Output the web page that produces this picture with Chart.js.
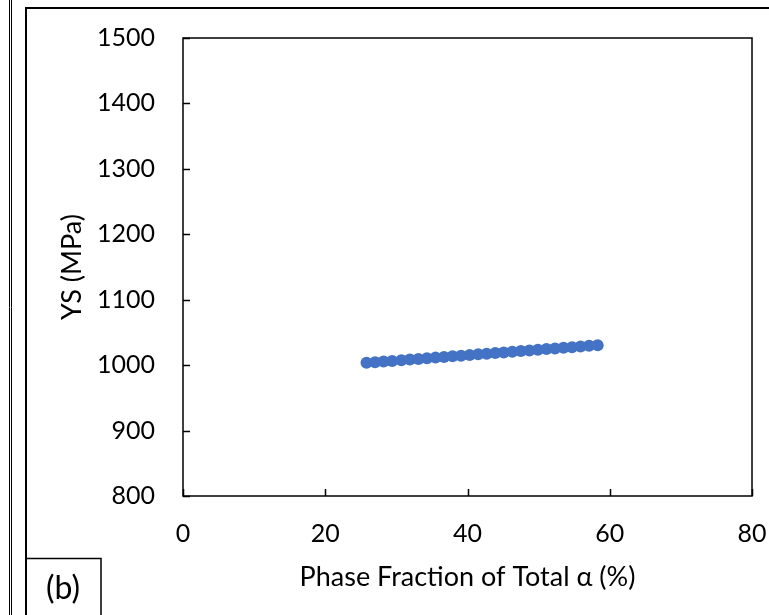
<!DOCTYPE html>
<html>
<head>
<meta charset="utf-8">
<script src="https://cdn.jsdelivr.net/npm/chart.js@4/dist/chart.umd.min.js"></script>
<style>
  html, body { margin: 0; padding: 0; background: #fff; }
  #wrap { width: 769px; height: 615px; position: relative; }
</style>
</head>
<body>
<div id="wrap"><canvas id="ysChart" width="769" height="615"></canvas></div>
<script>
// phase fraction of total alpha (%) and yield strength (MPa)
const alphaFraction = [25.8, 27.0, 28.2, 29.4, 30.7, 31.9, 33.1, 34.3, 35.5, 36.7, 37.9, 39.1, 40.3, 41.5,
                       42.7, 43.9, 45.1, 46.3, 47.5, 48.7, 49.9, 51.1, 52.3, 53.5, 54.7, 55.9, 57.1, 58.3];
const yieldStrength = [1003.5, 1004.5, 1005.5, 1006.5, 1007.5, 1008.5, 1009.5, 1010.5, 1011.5, 1012.5, 1013.5, 1014.5, 1015.5, 1016.5,
                       1017.5, 1018.5, 1019.5, 1020.5, 1021.5, 1022.5, 1023.5, 1024.5, 1025.5, 1026.5, 1027.5, 1028.5, 1029.5, 1030.5];
const xTicks = [0, 20, 40, 60, 80];
const yTicks = [800, 900, 1000, 1100, 1200, 1300, 1400, 1500];
const panelLabel = '(b)';

const FONT = 'Lato, "Open Sans", sans-serif';

// frame round the plot, inward tick marks, panel borders and the (b) tag
const framePlugin = {
  id: 'frame',
  afterDraw(chart) {
    const { ctx, chartArea: a, scales } = chart;
    ctx.save();
    ctx.strokeStyle = '#000';

    // plot box
    ctx.lineWidth = 1.5;
    ctx.strokeRect(a.left, a.top, a.right - a.left, a.bottom - a.top);

    // inward ticks
    ctx.beginPath();
    xTicks.forEach(v => {
      const px = Math.round(scales.x.getPixelForValue(v)) + 0.5;
      ctx.moveTo(px, a.bottom);
      ctx.lineTo(px, a.bottom - 7);
    });
    yTicks.forEach(v => {
      const py = Math.round(scales.y.getPixelForValue(v)) + 0.5;
      ctx.moveTo(a.left, py);
      ctx.lineTo(a.left + 7, py);
    });
    ctx.stroke();

    // neighbouring panel edge
    ctx.lineWidth = 1;
    ctx.beginPath();
    ctx.moveTo(9.5, 0); ctx.lineTo(9.5, 615);
    ctx.moveTo(11.5, 0); ctx.lineTo(11.5, 615);
    ctx.stroke();

    // this panel's border
    ctx.lineWidth = 2;
    ctx.beginPath();
    ctx.moveTo(26, 616); ctx.lineTo(26, 8); ctx.lineTo(770, 8);
    ctx.stroke();

    // (b) box
    ctx.lineWidth = 1.5;
    ctx.beginPath();
    ctx.moveTo(26, 558.5); ctx.lineTo(101, 558.5); ctx.lineTo(101, 616);
    ctx.stroke();
    ctx.fillStyle = '#000';
    ctx.font = '32px ' + FONT;
    ctx.textAlign = 'center';
    ctx.textBaseline = 'middle';
    ctx.fillText(panelLabel, 63, 589);
    ctx.restore();
  }
};

const ctx = document.getElementById('ysChart').getContext('2d');
const ysChart = new Chart(ctx, {
  type: 'scatter',
  data: {
    datasets: [{
      data: alphaFraction.map((x, i) => ({ x: x, y: yieldStrength[i] })),
      backgroundColor: '#4472C4',
      borderColor: '#4472C4',
      borderWidth: 0,
      pointRadius: 6,
      showLine: false
    }]
  },
  options: {
    responsive: false,
    animation: false,
    layout: { padding: { left: 0, top: 38, right: 17, bottom: 0 } },
    plugins: { legend: { display: false }, tooltip: { enabled: false } },
    scales: {
      x: {
        type: 'linear',
        min: 0, max: 80,
        afterBuildTicks: s => { s.ticks = xTicks.map(v => ({ value: v })); },
        afterFit: s => { s.height = 119; s.paddingLeft = 0; s.paddingRight = 0; },
        grid: { display: false, drawTicks: false },
        border: { display: false },
        ticks: {
          color: '#000', padding: 23, font: { family: FONT, size: 25 },
          callback: v => String(v)
        },
        title: {
          display: true,
          text: 'Phase Fraction of Total α (%)',
          color: '#000',
          font: { family: FONT, size: 27 },
          padding: { top: 0, bottom: 22 }
        }
      },
      y: {
        type: 'linear',
        min: 800, max: 1500,
        afterBuildTicks: s => { s.ticks = yTicks.map(v => ({ value: v })); },
        afterFit: s => { s.width = 183; s.paddingTop = 0; s.paddingBottom = 0; },
        grid: { display: false, drawTicks: false },
        border: { display: false },
        ticks: {
          color: '#000', padding: 28, font: { family: FONT, size: 25 },
          callback: v => String(v)
        },
        title: {
          display: true,
          text: 'YS (MPa)',
          color: '#000',
          font: { family: FONT, size: 27 },
          padding: { top: 56, bottom: 0 }
        }
      }
    }
  },
  plugins: [framePlugin]
});
</script>
</body>
</html>
